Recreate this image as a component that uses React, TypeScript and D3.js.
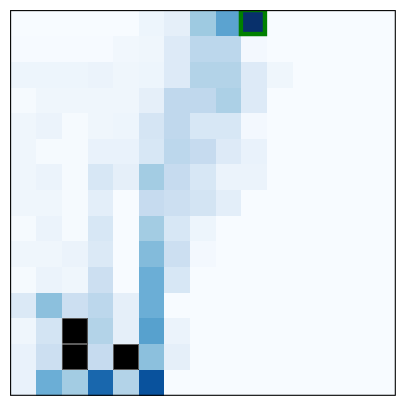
import * as d3 from "d3"

// heatmap values, row by row (top to bottom), null = missing cell (drawn black)
const row00 = [0, 0, 0, 0, 0, 0.05, 0.09, 0.375, 0.55, 1.0, 0, 0, 0, 0, 0]
const row01 = [0.005, 0.005, 0.005, 0.005, 0.03, 0.04, 0.13, 0.28, 0.28, 0.02, 0, 0, 0, 0, 0]
const row02 = [0.05, 0.05, 0.05, 0.06, 0.04, 0.05, 0.13, 0.31, 0.31, 0.13, 0.04, 0, 0, 0, 0]
const row03 = [0.01, 0.04, 0.04, 0.04, 0.04, 0.09, 0.27, 0.27, 0.33, 0.13, 0, 0, 0, 0, 0]
const row04 = [0.04, 0.06, 0.01, 0.04, 0.05, 0.17, 0.27, 0.16, 0.16, 0.02, 0, 0, 0, 0, 0]
const row05 = [0.04, 0.01, 0.01, 0.07, 0.07, 0.16, 0.28, 0.25, 0.13, 0.07, 0, 0, 0, 0, 0]
const row06 = [0.04, 0.06, 0.01, 0.16, 0.09, 0.36, 0.25, 0.16, 0.06, 0.06, 0, 0, 0, 0, 0]
const row07 = [0.04, 0.04, 0.01, 0.1, 0, 0.25, 0.22, 0.18, 0.1, 0, 0, 0, 0, 0, 0]
const row08 = [0.01, 0.06, 0.01, 0.16, 0, 0.36, 0.16, 0.05, 0, 0, 0, 0, 0, 0, 0]
const row09 = [0.04, 0.04, 0.06, 0.14, 0, 0.44, 0.22, 0.02, 0, 0, 0, 0, 0, 0, 0]
const row10 = [0.01, 0.06, 0.04, 0.22, 0, 0.5, 0.16, 0, 0, 0, 0, 0, 0, 0, 0]
const row11 = [0.14, 0.42, 0.22, 0.28, 0.09, 0.5, 0, 0, 0, 0, 0, 0, 0, 0, 0]
const row12 = [0.04, 0.18, null, 0.31, 0.09, 0.56, 0.06, 0, 0, 0, 0, 0, 0, 0, 0]
const row13 = [0.07, 0.22, null, 0.25, null, 0.42, 0.09, 0, 0, 0, 0, 0, 0, 0, 0]
const row14 = [0.07, 0.5, 0.36, 0.79, 0.31, 0.87, 0, 0, 0, 0, 0, 0, 0, 0, 0]

const rows: (number | null)[][] = [
  row00, row01, row02, row03, row04, row05, row06, row07,
  row08, row09, row10, row11, row12, row13, row14
]

// highlighted cell (row, col)
const highlight = { row: 0, col: 9 }

// matplotlib "Blues" stops
const bluesStops = ["#f7fbff", "#deebf7", "#c6dbef", "#9ecae1", "#6baed6", "#4292c6", "#2171b5", "#08519c", "#08306b"]

export default function App() {
  const W = 405
  const H = 405
  const left = 10.6
  const top = 10.6
  const size = 384.7

  const n = rows.length
  const idx = d3.range(n)
  const x = d3.scaleBand<number>().domain(idx).range([left, left + size])
  const y = d3.scaleBand<number>().domain(idx).range([top, top + size])
  const bw = x.bandwidth()

  const color = d3.scaleLinear<string>()
    .domain(d3.range(bluesStops.length).map(i => i / (bluesStops.length - 1)))
    .range(bluesStops)
    .interpolate(d3.interpolateRgb)
    .clamp(true)

  const cells = rows.flatMap((r, ri) => r.map((v, ci) => ({ ri, ci, v })))

  return (
    <svg width={W} height={H} style={{ position: "absolute", left: 0, top: 0 }}>
      <defs>
        <clipPath id="plot-clip">
          <rect x={left} y={top} width={size} height={size} />
        </clipPath>
      </defs>
      <rect x={0} y={0} width={W} height={H} fill="#fff" />
      <g shapeRendering="crispEdges">
        {cells.map(d => (
          <rect
            key={`${d.ri}-${d.ci}`}
            x={x(d.ci)}
            y={y(d.ri)}
            width={bw + 0.3}
            height={bw + 0.3}
            fill={d.v == null ? "#000" : color(d.v)}
          />
        ))}
      </g>
      {cells.filter(d => d.v == null).map(d => (
        <rect
          key={`nan-${d.ri}-${d.ci}`}
          x={(x(d.ci) ?? 0) + 0.3}
          y={(y(d.ri) ?? 0) + 0.3}
          width={bw - 0.6}
          height={bw - 0.6}
          fill="none"
          stroke="#9a9a9a"
          strokeWidth={0.6}
        />
      ))}
      <g clipPath="url(#plot-clip)">
        <rect
          x={(x(highlight.col) ?? 0) - 0.5}
          y={(y(highlight.row) ?? 0) - 0.6}
          width={bw - 1.6}
          height={bw - 1.6}
          fill="none"
          stroke="#008000"
          strokeWidth={4.4}
        />
      </g>
      <rect x={left} y={top} width={size} height={size} fill="none" stroke="#000" strokeWidth={1.1} />
    </svg>
  )
}
